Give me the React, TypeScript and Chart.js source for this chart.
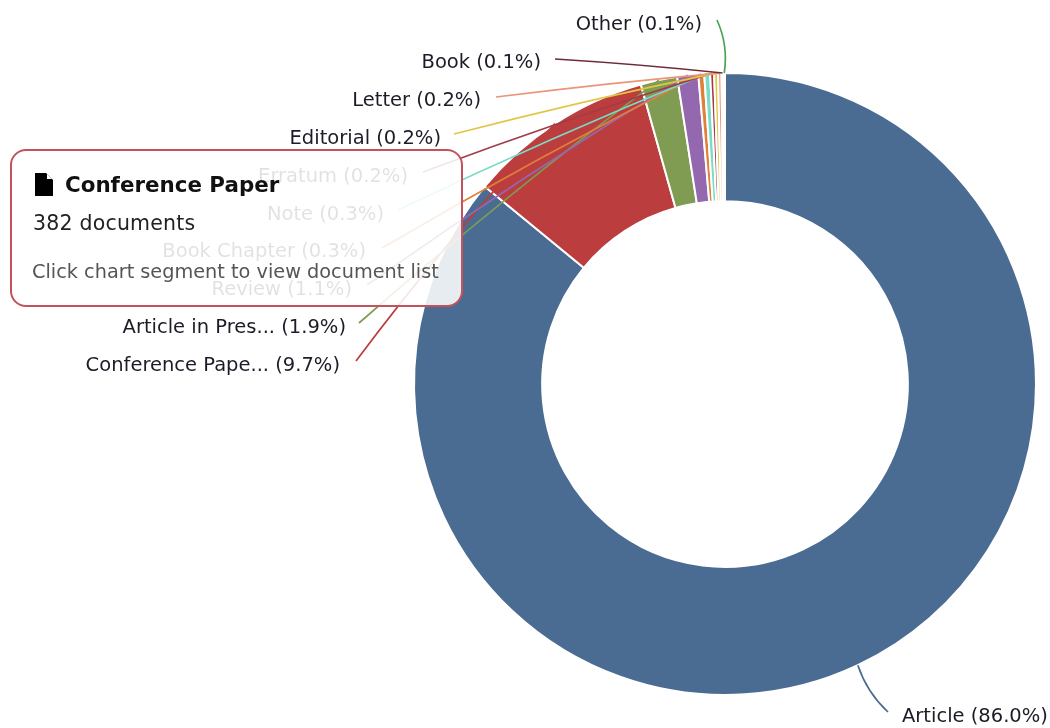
import React, { useEffect, useRef } from "react";
import { Chart, registerables } from "chart.js";

Chart.register(...registerables);

const categories = ["Article", "Conference Paper", "Article in Press", "Review", "Book Chapter", "Note", "Erratum", "Editorial", "Letter", "Book", "Other"];
const shortNames = ["Article", "Conference Pape...", "Article in Pres...", "Review", "Book Chapter", "Note", "Erratum", "Editorial", "Letter", "Book", "Other"];
const documents = [3390, 382, 75, 43, 12, 12, 8, 8, 7, 4, 3];
const colors = ["#4a6c92", "#bc3d3d", "#7f9c52", "#9468ae", "#e0803a", "#78dcc6", "#a33a48", "#e3c548", "#ea9478", "#6e2c38", "#4ba356"];

// label layout: text edge x, text centre y, connector start x, connector start y
const labelLayout: number[][] = [
  [902, 717, 888, 712],
  [340, 366, 356, 361],
  [346, 328, 359, 323],
  [352, 290, 367, 285],
  [366, 252, 382, 248],
  [384, 215, 398, 210],
  [408, 177, 423, 172],
  [441, 139, 454, 134],
  [481, 101, 496, 97],
  [541, 63, 555, 59],
  [702, 25, 717, 20],
];

const FONT = '"DejaVu Sans", sans-serif';
const total = documents.reduce((a, b) => a + b, 0);

const calloutPlugin = {
  id: "callouts",
  afterDatasetsDraw(chart: any) {
    const ctx = chart.ctx;
    const arcs = chart.getDatasetMeta(0).data;
    ctx.save();
    arcs.forEach((arc: any, i: number) => {
      const p = arc.getProps(["x", "y", "startAngle", "endAngle", "outerRadius"], true);
      const mid = (p.startAngle + p.endAngle) / 2;
      const ex = p.x + Math.cos(mid) * p.outerRadius;
      const ey = p.y + Math.sin(mid) * p.outerRadius;
      const [tx, ty, sx, sy] = labelLayout[i];
      const dx = ex - sx;
      const dy = ey - sy;
      const len = Math.hypot(dx, dy) || 1;
      const bow = 1 + Math.min(10, len * 0.13) * Math.abs(dy / len);
      const cx = (sx + ex) / 2 + (dy / len) * bow;
      const cy = (sy + ey) / 2 + (-dx / len) * bow;
      ctx.beginPath();
      ctx.moveTo(sx, sy);
      ctx.quadraticCurveTo(cx, cy, ex, ey);
      ctx.strokeStyle = colors[i];
      ctx.lineWidth = 1.7;
      ctx.stroke();
      const pct = ((documents[i] / total) * 100).toFixed(1);
      ctx.font = `19.5px ${FONT}`;
      ctx.fillStyle = "#1c1c28";
      ctx.textBaseline = "middle";
      ctx.textAlign = i === 0 ? "left" : "right";
      ctx.fillText(`${shortNames[i]} (${pct}%)`, tx, ty);
    });
    ctx.restore();
  },
};

export default function App() {
  const ref = useRef<HTMLCanvasElement>(null);
  useEffect(() => {
    const chart = new Chart(ref.current as HTMLCanvasElement, {
      type: "doughnut",
      data: {
        labels: categories,
        datasets: [{ data: documents, backgroundColor: colors, borderColor: "#ffffff", borderWidth: 2 }],
      },
      options: {
        responsive: false,
        animation: false,
        cutout: "58.8%",
        layout: { padding: { left: 413, top: 72, right: 13, bottom: 32 } },
        plugins: { legend: { display: false }, tooltip: { enabled: false } },
        events: [],
      },
      plugins: [calloutPlugin],
    } as any);
    return () => chart.destroy();
  }, []);

  return (
    <div style={{ position: "absolute", left: 0, top: 0, width: 1050, height: 728, overflow: "hidden", background: "#fff", fontFamily: FONT }}>
      <canvas ref={ref} width={1050} height={728} style={{ display: "block" }} />
      <div
        style={{
          position: "absolute", left: 10, top: 149, width: 449, height: 154,
          border: "2px solid #c4525c", borderRadius: 16,
          background: "rgba(255,255,255,0.87)",
        }}
      >
        <svg width="18" height="23" viewBox="0 0 18 23" style={{ position: "absolute", left: 23, top: 22 }}>
          <path d="M0 0H11L18 7V23H0Z" fill="#000" />
          <path d="M12 1L17 6H12Z" fill="#fff" />
        </svg>
        <div style={{ position: "absolute", left: 53, top: 21, fontSize: 21.4, fontWeight: 700, color: "#111", whiteSpace: "nowrap" }}>{categories[1]}</div>
        <div style={{ position: "absolute", left: 21, top: 60, fontSize: 20.5, letterSpacing: 0.2, color: "#222", whiteSpace: "nowrap" }}>{documents[1]} documents</div>
        <div style={{ position: "absolute", left: 20, top: 109, fontSize: 19.3, color: "#555", whiteSpace: "nowrap" }}>Click chart segment to view document list</div>
      </div>
    </div>
  );
}
